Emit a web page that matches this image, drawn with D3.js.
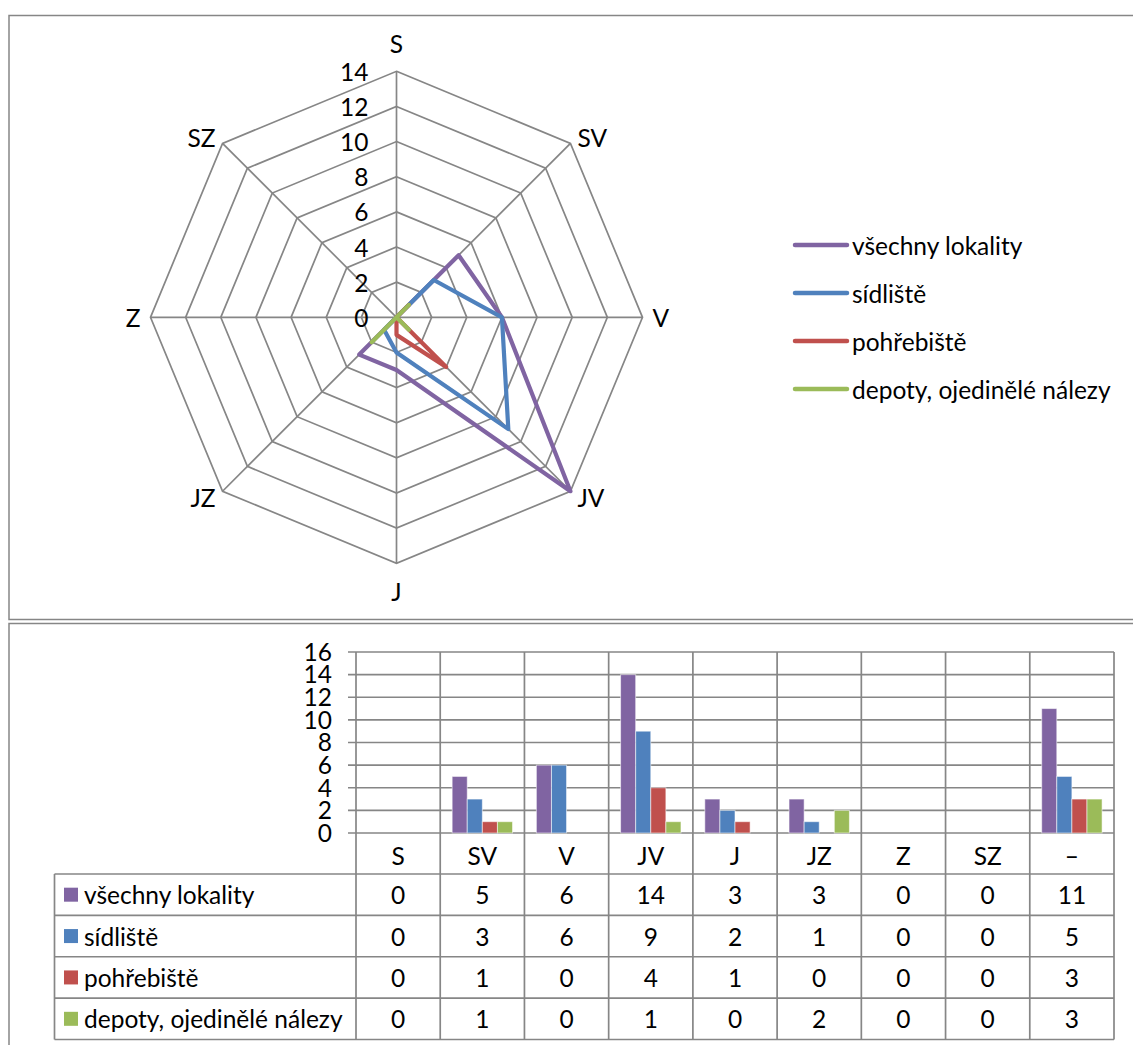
<!DOCTYPE html>
<html>
<head>
<meta charset="utf-8">
<script src="https://cdn.jsdelivr.net/npm/d3@7"></script>
<style>
  html, body { margin: 0; padding: 0; background: #fff; }
  svg { display: block; }
  text { font-family: Lato, "Open Sans", sans-serif; fill: #000; }
</style>
</head>
<body>
<svg id="chart" width="1133" height="1045"></svg>
<script>
// ---------- data ----------
const directions = ["S", "SV", "V", "JV", "J", "JZ", "Z", "SZ"];
const categories = ["S", "SV", "V", "JV", "J", "JZ", "Z", "SZ", "–"];
const seriesNames = ["všechny lokality", "sídliště", "pohřebiště", "depoty, ojedinělé nálezy"];
const vsechnyLokality = [0, 5, 6, 14, 3, 3, 0, 0, 11];
const sidliste        = [0, 3, 6, 9, 2, 1, 0, 0, 5];
const pohrebiste      = [0, 1, 0, 4, 1, 0, 0, 0, 3];
const depoty          = [0, 1, 0, 1, 0, 2, 0, 0, 3];
const seriesColors = ["#8064A2", "#4F81BD", "#C0504D", "#9BBB59"];
const radarTicks = [0, 2, 4, 6, 8, 10, 12, 14];
const barTicks = [0, 2, 4, 6, 8, 10, 12, 14, 16];

const seriesValues = [vsechnyLokality, sidliste, pohrebiste, depoty];
const series = seriesNames.map((name, i) => ({ name, color: seriesColors[i], values: seriesValues[i] }));

const svg = d3.select("#chart");
const gridColor = "#868686";
const fontSize = 24.5;

// ---------- panel frames ----------
svg.append("rect").attr("x", 9).attr("y", 15.5).attr("width", 1140).attr("height", 604)
  .attr("fill", "none").attr("stroke", gridColor).attr("stroke-width", 1.5);
svg.append("rect").attr("x", 9).attr("y", 623.5).attr("width", 1140).attr("height", 440)
  .attr("fill", "none").attr("stroke", gridColor).attr("stroke-width", 1.5);

// ---------- radar ----------
const cx = 396.5, cy = 317.3, R = 246;
const rScale = d3.scaleLinear().domain([0, 14]).range([0, R]);
const angle = d3.scaleLinear().domain([0, directions.length]).range([0, 2 * Math.PI]);
const radar = svg.append("g").attr("transform", `translate(${cx},${cy})`);

const ringLine = d3.lineRadial().angle((d, i) => angle(i)).radius(d => rScale(d)).curve(d3.curveLinearClosed);
radarTicks.filter(t => t > 0).forEach(t => {
  radar.append("path").attr("d", ringLine(directions.map(() => t)))
    .attr("fill", "none").attr("stroke", gridColor).attr("stroke-width", 1.7);
});
directions.forEach((d, i) => {
  const a = angle(i);
  radar.append("line").attr("x1", 0).attr("y1", 0)
    .attr("x2", Math.sin(a) * R).attr("y2", -Math.cos(a) * R)
    .attr("stroke", gridColor).attr("stroke-width", 1.7);
  const vx = Math.sin(a) * R, vy = -Math.cos(a) * R;
  const s = Math.sin(a), c = Math.cos(a);
  const dx = s * 10;
  const dy = -c * (Math.abs(c) > 0.9 ? 28 : 8.5);
  const anchor = Math.abs(s) < 0.1 ? "middle" : (s > 0 ? "start" : "end");
  radar.append("text").attr("x", vx + dx).attr("y", vy + dy)
    .attr("text-anchor", anchor).attr("dominant-baseline", "central")
    .attr("font-size", fontSize).text(d);
});
radarTicks.forEach(t => {
  radar.append("text").attr("x", -28).attr("y", -rScale(t))
    .attr("text-anchor", "end").attr("dominant-baseline", "central")
    .attr("font-size", fontSize).text(t);
});
const seriesLine = d3.lineRadial().angle((d, i) => angle(i)).radius(d => rScale(d)).curve(d3.curveLinearClosed);
series.forEach(s => {
  radar.append("path").attr("d", seriesLine(s.values.slice(0, directions.length)))
    .attr("fill", "none").attr("stroke", s.color).attr("stroke-width", 4.2)
    .attr("stroke-linejoin", "round");
});

// radar legend
const legend = svg.append("g");
series.forEach((s, i) => {
  const y = 245 + i * 48;
  legend.append("line").attr("x1", 795).attr("x2", 847).attr("y1", y).attr("y2", y)
    .attr("stroke", s.color).attr("stroke-width", 4.5).attr("stroke-linecap", "round");
  legend.append("text").attr("x", 852).attr("y", y).attr("dominant-baseline", "central")
    .attr("font-size", fontSize).text(s.name);
});

// ---------- bar chart ----------
const x0 = d3.scaleBand().domain(categories).range([356, 1114]).paddingInner(0).paddingOuter(0);
const x1 = d3.scaleBand().domain(seriesNames).range([0, x0.bandwidth()]).paddingInner(0).paddingOuter(0.79);
const y = d3.scaleLinear().domain([0, 16]).range([833, 652]);
const plotTop = y(16), plotBottom = y(0);
const tableTop = plotBottom, headerBottom = 874, tableBottom = 1039.5, tableLeft = 54.5, tableRight = 1114;
const rowH = (tableBottom - headerBottom) / series.length;

const bars = svg.append("g");
barTicks.forEach(t => {
  bars.append("line").attr("x1", 348).attr("x2", tableRight).attr("y1", y(t)).attr("y2", y(t))
    .attr("stroke", gridColor).attr("stroke-width", 1.7);
});
const yAxis = d3.axisLeft(y).tickValues(barTicks).tickSize(0).tickPadding(0);
const yg = svg.append("g").attr("transform", "translate(332,0)").call(yAxis);
yg.select(".domain").remove();
yg.selectAll("text").attr("font-size", fontSize).attr("font-family", "Lato, sans-serif")
  .attr("fill", "#000").attr("dy", "0.34em");

series.forEach((s, si) => {
  bars.selectAll(null).data(categories).join("rect")
    .attr("x", c => x0(c) + x1(s.name))
    .attr("y", (c, ci) => y(s.values[ci]))
    .attr("width", x1.bandwidth())
    .attr("height", (c, ci) => y(0) - y(s.values[ci]))
    .attr("fill", s.color)
    .attr("stroke", "#ffffff").attr("stroke-opacity", 0.55).attr("stroke-width", 1);
});

const bounds = categories.map(c => x0(c)).concat([tableRight]);
bounds.forEach(bx => {
  bars.append("line").attr("x1", bx).attr("x2", bx).attr("y1", plotTop).attr("y2", tableBottom)
    .attr("stroke", gridColor).attr("stroke-width", 1.7);
});

for (let r = 0; r <= series.length; r++) {
  const ly = headerBottom + r * rowH;
  bars.append("line").attr("x1", tableLeft).attr("x2", tableRight).attr("y1", ly).attr("y2", ly)
    .attr("stroke", gridColor).attr("stroke-width", 1.7);
}
bars.append("line").attr("x1", tableLeft).attr("x2", tableLeft).attr("y1", headerBottom).attr("y2", tableBottom)
  .attr("stroke", gridColor).attr("stroke-width", 1.7);

categories.forEach(c => {
  bars.append("text").attr("x", x0(c) + x0.bandwidth() / 2).attr("y", (tableTop + headerBottom) / 2 + 2)
    .attr("text-anchor", "middle").attr("dominant-baseline", "central")
    .attr("font-size", fontSize).text(c);
});
series.forEach((s, si) => {
  const cyRow = headerBottom + si * rowH + rowH / 2;
  bars.append("rect").attr("x", 64).attr("y", cyRow - 7).attr("width", 14).attr("height", 14).attr("fill", s.color);
  bars.append("text").attr("x", 84).attr("y", cyRow).attr("dominant-baseline", "central")
    .attr("font-size", fontSize).text(s.name);
  categories.forEach((c, ci) => {
    bars.append("text").attr("x", x0(c) + x0.bandwidth() / 2).attr("y", cyRow)
      .attr("text-anchor", "middle").attr("dominant-baseline", "central")
      .attr("font-size", fontSize).text(s.values[ci]);
  });
});
</script>
</body>
</html>
